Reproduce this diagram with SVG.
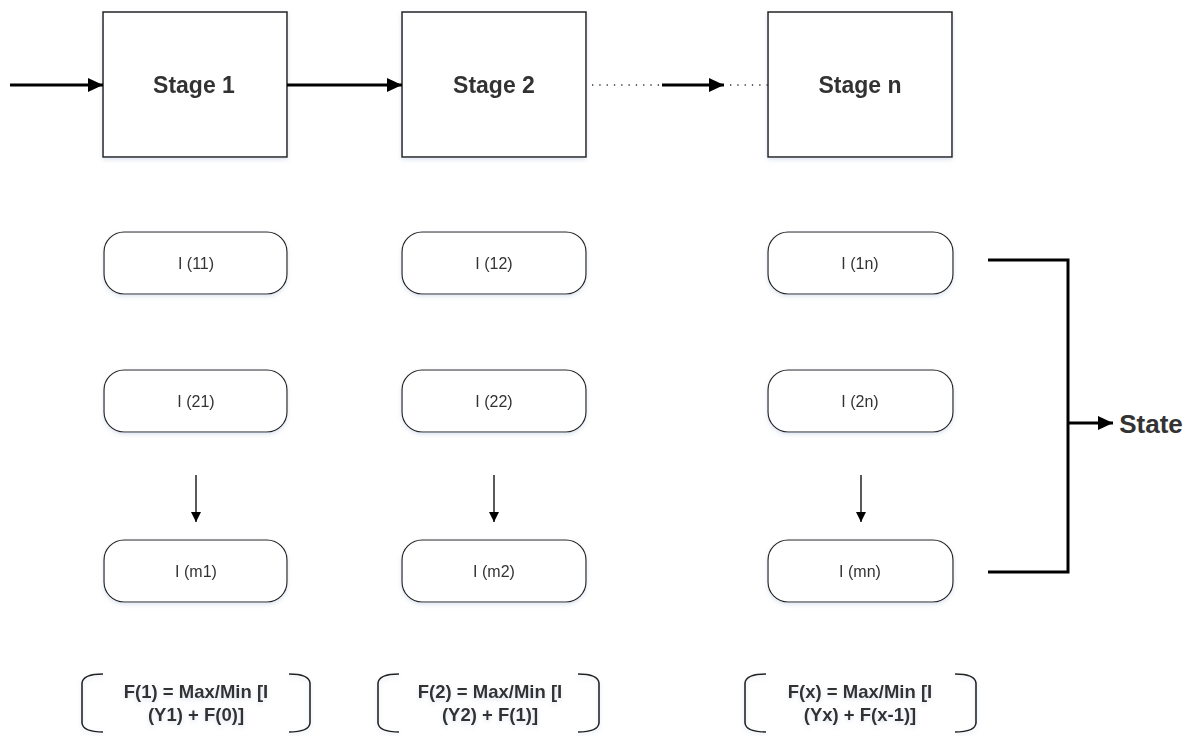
<svg xmlns="http://www.w3.org/2000/svg" width="1190" height="736" viewBox="0 0 1190 736">
  <defs>
    <marker id="arrow" markerWidth="10" markerHeight="10" refX="10" refY="5" orient="auto" markerUnits="userSpaceOnUse">
      <path d="M0,0 L10,5 L0,10 Z" fill="#000"/>
    </marker>
    <marker id="arrowBig" markerWidth="15" markerHeight="14" refX="15" refY="7" orient="auto" markerUnits="userSpaceOnUse">
      <path d="M0,0 L15,7 L0,14 Z" fill="#000"/>
    </marker>
    <filter id="soft" x="-10%" y="-10%" width="120%" height="130%">
      <feDropShadow dx="0" dy="2" stdDeviation="2" flood-color="#9fb4d0" flood-opacity="0.35"/>
    </filter>
  </defs>
  <style>
    .stage { fill: #fff; stroke: #222; stroke-width: 1.5; }
    .item { fill: #fff; stroke: #222; stroke-width: 1.2; }
    .stageText { font-family: "Liberation Sans", Arial, sans-serif; font-weight: bold; font-size: 23px; fill: #333; text-anchor: middle; }
    .itemText { font-family: "Liberation Sans", Arial, sans-serif; font-size: 16px; fill: #333; text-anchor: middle; }
    .formula { font-family: "Liberation Sans", Arial, sans-serif; font-weight: bold; font-size: 18.5px; fill: #333; text-anchor: middle; }
    .bracket { fill: none; stroke: #222; stroke-width: 1.6; }
    .thick { fill: none; stroke: #000; stroke-width: 3; }
    .thin { fill: none; stroke: #000; stroke-width: 1.3; }
    .dotted { fill: none; stroke: #333; stroke-width: 1.3; stroke-dasharray: 1.3 6; }
  </style>
  <rect width="1190" height="736" fill="#fff"/>

  <!-- stages -->
  <g id="stage1" filter="url(#soft)">
    <rect class="stage" x="103" y="12" width="184" height="145"/>
    <text class="stageText" x="194" y="93">Stage 1</text>
  </g>
  <g id="stage2" filter="url(#soft)">
    <rect class="stage" x="402" y="12" width="184" height="145"/>
    <text class="stageText" x="494" y="93">Stage 2</text>
  </g>
  <g id="stageN" filter="url(#soft)">
    <rect class="stage" x="768" y="12" width="184" height="145"/>
    <text class="stageText" x="860" y="93">Stage n</text>
  </g>

  <!-- items column 1 -->
  <g id="i11" filter="url(#soft)">
    <rect class="item" x="104" y="232" width="183" height="62" rx="20"/>
    <text class="itemText" x="196" y="269">I (11)</text>
  </g>
  <g id="i21" filter="url(#soft)">
    <rect class="item" x="104" y="370" width="183" height="62" rx="20"/>
    <text class="itemText" x="196" y="407">I (21)</text>
  </g>
  <g id="im1" filter="url(#soft)">
    <rect class="item" x="104" y="540" width="183" height="62" rx="20"/>
    <text class="itemText" x="196" y="577">I (m1)</text>
  </g>

  <!-- items column 2 -->
  <g id="i12" filter="url(#soft)">
    <rect class="item" x="402" y="232" width="184" height="62" rx="20"/>
    <text class="itemText" x="494" y="269">I (12)</text>
  </g>
  <g id="i22" filter="url(#soft)">
    <rect class="item" x="402" y="370" width="184" height="62" rx="20"/>
    <text class="itemText" x="494" y="407">I (22)</text>
  </g>
  <g id="im2" filter="url(#soft)">
    <rect class="item" x="402" y="540" width="184" height="62" rx="20"/>
    <text class="itemText" x="494" y="577">I (m2)</text>
  </g>

  <!-- items column n -->
  <g id="i1n" filter="url(#soft)">
    <rect class="item" x="768" y="232" width="185" height="62" rx="20"/>
    <text class="itemText" x="860" y="269">I (1n)</text>
  </g>
  <g id="i2n" filter="url(#soft)">
    <rect class="item" x="768" y="370" width="185" height="62" rx="20"/>
    <text class="itemText" x="860" y="407">I (2n)</text>
  </g>
  <g id="imn" filter="url(#soft)">
    <rect class="item" x="768" y="540" width="185" height="62" rx="20"/>
    <text class="itemText" x="860" y="577">I (mn)</text>
  </g>

  <!-- recurrence formulas -->
  <g id="formula1" filter="url(#soft)">
    <path class="bracket" d="M103,674 Q83,674 82,683 L82,723 Q83,732 103,732"/>
    <path class="bracket" d="M289,674 Q309,674 310,683 L310,723 Q309,732 289,732"/>
    <text class="formula" x="196" y="698">F(1) = Max/Min [I</text>
    <text class="formula" x="196" y="721">(Y1) + F(0)]</text>
  </g>
  <g id="formula2" filter="url(#soft)">
    <path class="bracket" d="M399,674 Q379,674 378,683 L378,723 Q379,732 399,732"/>
    <path class="bracket" d="M578,674 Q598,674 599,683 L599,723 Q598,732 578,732"/>
    <text class="formula" x="490" y="698">F(2) = Max/Min [I</text>
    <text class="formula" x="490" y="721">(Y2) + F(1)]</text>
  </g>
  <g id="formulaN" filter="url(#soft)">
    <path class="bracket" d="M766,674 Q746,674 745,683 L745,723 Q746,732 766,732"/>
    <path class="bracket" d="M955,674 Q975,674 976,683 L976,723 Q975,732 955,732"/>
    <text class="formula" x="860" y="698">F(x) = Max/Min [I</text>
    <text class="formula" x="860" y="721">(Yx) + F(x-1)]</text>
  </g>

  <g id="state">
    <text class="stageText" x="1151" y="433" style="font-size:26px">State</text>
  </g>

  <!-- connectors -->
  <g id="connectors">
    <line class="thick" x1="10" y1="85" x2="103" y2="85" marker-end="url(#arrowBig)"/>
    <line class="thick" x1="287" y1="85" x2="402" y2="85" marker-end="url(#arrowBig)"/>
    <line class="dotted" x1="592" y1="85" x2="662" y2="85"/>
    <line class="thick" x1="662" y1="85" x2="724" y2="85" marker-end="url(#arrowBig)"/>
    <line class="dotted" x1="730" y1="85" x2="768" y2="85"/>

    <line class="thin" x1="196" y1="475" x2="196" y2="522" marker-end="url(#arrow)"/>
    <line class="thin" x1="494" y1="475" x2="494" y2="522" marker-end="url(#arrow)"/>
    <line class="thin" x1="861" y1="475" x2="861" y2="522" marker-end="url(#arrow)"/>

    <path class="thick" d="M988,260 L1068,260 L1068,572 L988,572"/>
    <line class="thick" x1="1068" y1="423" x2="1113" y2="423" marker-end="url(#arrowBig)"/>
  </g>
</svg>
